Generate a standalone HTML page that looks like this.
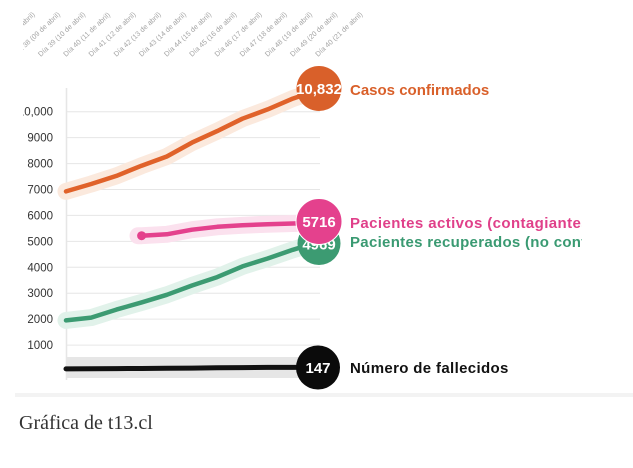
<!DOCTYPE html>
<html><head><meta charset="utf-8"><style>
html,body{margin:0;padding:0;background:#fff;}
svg{display:block;}
</style></head><body>
<svg width="633" height="468" viewBox="0 0 633 468" xmlns="http://www.w3.org/2000/svg">
<defs>
<clipPath id="lc"><rect x="23" y="0" width="610" height="400"/></clipPath>
<clipPath id="rc"><rect x="0" y="0" width="582" height="400"/></clipPath>
</defs>
<rect x="0" y="0" width="633" height="468" fill="#fff"/>
<rect x="15" y="393" width="618" height="4" fill="#f3f3f3"/>

<!-- x labels -->
<g clip-path="url(#lc)" font-family="Liberation Sans, sans-serif" font-size="7.2" fill="#a5a5a5">
<text transform="translate(-9.6,57) rotate(-43)">Día 37 (08 de abril)</text>
<text transform="translate(15.6,57) rotate(-43)">Día 38 (09 de abril)</text>
<text transform="translate(40.8,57) rotate(-43)">Día 39 (10 de abril)</text>
<text transform="translate(66,57) rotate(-43)">Día 40 (11 de abril)</text>
<text transform="translate(91.2,57) rotate(-43)">Día 41 (12 de abril)</text>
<text transform="translate(116.4,57) rotate(-43)">Día 42 (13 de abril)</text>
<text transform="translate(141.6,57) rotate(-43)">Día 43 (14 de abril)</text>
<text transform="translate(166.8,57) rotate(-43)">Día 44 (15 de abril)</text>
<text transform="translate(192,57) rotate(-43)">Día 45 (16 de abril)</text>
<text transform="translate(217.2,57) rotate(-43)">Día 46 (17 de abril)</text>
<text transform="translate(242.4,57) rotate(-43)">Día 47 (18 de abril)</text>
<text transform="translate(267.6,57) rotate(-43)">Día 48 (19 de abril)</text>
<text transform="translate(292.8,57) rotate(-43)">Día 49 (20 de abril)</text>
<text transform="translate(318,57) rotate(-43)">Día 40 (21 de abril)</text>
</g>

<!-- grid -->
<g stroke="#e6e6e6" stroke-width="1">
<line x1="66" y1="111.7" x2="320" y2="111.7"/>
<line x1="66" y1="137.6" x2="320" y2="137.6"/>
<line x1="66" y1="163.6" x2="320" y2="163.6"/>
<line x1="66" y1="189.5" x2="320" y2="189.5"/>
<line x1="66" y1="215.4" x2="320" y2="215.4"/>
<line x1="66" y1="241.4" x2="320" y2="241.4"/>
<line x1="66" y1="267.3" x2="320" y2="267.3"/>
<line x1="66" y1="293.2" x2="320" y2="293.2"/>
<line x1="66" y1="319.1" x2="320" y2="319.1"/>
<line x1="66" y1="345.1" x2="320" y2="345.1"/>
</g>
<line x1="66.5" y1="88" x2="66.5" y2="380" stroke="#e6e6e6" stroke-width="1.5"/>

<!-- y labels -->
<g clip-path="url(#lc)" font-family="Liberation Sans, sans-serif" font-size="11.5" fill="#333" text-anchor="end">
<text x="53" y="115.7">10,000</text>
<text x="53" y="141.6">9000</text>
<text x="53" y="167.6">8000</text>
<text x="53" y="193.5">7000</text>
<text x="53" y="219.4">6000</text>
<text x="53" y="245.4">5000</text>
<text x="53" y="271.3">4000</text>
<text x="53" y="297.2">3000</text>
<text x="53" y="323.1">2000</text>
<text x="53" y="349.1">1000</text>
</g>

<!-- black band -->
<rect x="66" y="357" width="240" height="21" fill="#e6e6e6"/>

<!-- halos -->
<g fill="none" stroke-linecap="round" stroke-linejoin="round" stroke-width="17">
<polyline stroke="#fbe9dd" points="66,191.4 91.2,184 116.4,175.9 141.6,165.7 166.8,156.5 192,142.6 217.2,131.1 242.4,118.7 267.6,109.4 292.8,98.6 318,90.1"/>
<polyline stroke="#e1f2ea" points="66,320.4 91.2,317.6 116.4,309.6 141.6,302.4 166.8,294.8 192,285.5 217.2,277.1 242.4,266.4 267.6,258.5 292.8,249.8 318,242.2"/>
<polyline stroke="#fbe1ee" points="138,235.7 141.6,235.7 166.8,234.3 192,229.7 217.2,226.8 242.4,225.3 267.6,224.2 292.8,223.5 318,222.8"/>
</g>

<!-- lines -->
<g fill="none" stroke-linecap="round" stroke-linejoin="round">
<polyline stroke="#e0622a" stroke-width="4.5" points="66,191.4 91.2,184 116.4,175.9 141.6,165.7 166.8,156.5 192,142.6 217.2,131.1 242.4,118.7 267.6,109.4 292.8,98.6 318,90.1"/>
<polyline stroke="#3c9b72" stroke-width="4.5" points="66,320.4 91.2,317.6 116.4,309.6 141.6,302.4 166.8,294.8 192,285.5 217.2,277.1 242.4,266.4 267.6,258.5 292.8,249.8 318,242.2"/>
<polyline stroke="#e4418d" stroke-width="4.5" points="141.6,235.7 166.8,234.3 192,229.7 217.2,226.8 242.4,225.3 267.6,224.2 292.8,223.5 318,222.8"/>
<polyline stroke="#111" stroke-width="5" points="66,368.9 91.2,368.8 116.4,368.6 141.6,368.5 166.8,368.3 192,368.1 217.2,367.8 242.4,367.6 267.6,367.4 292.8,367.4 318,367.2"/>
</g>
<circle cx="141.6" cy="235.7" r="4.5" fill="#e4418d"/>

<!-- end circles -->
<g font-family="Liberation Sans, sans-serif" font-weight="bold" font-size="15" fill="#fff" text-anchor="middle">
<circle cx="319" cy="88.5" r="22.5" fill="#d9602a"/>
<text x="319" y="94">10,832</text>
<circle cx="319" cy="243.5" r="21.5" fill="#3c9b72"/>
<text x="319" y="249.5">4969</text>
<circle cx="319" cy="221.5" r="23" fill="#e4418d" stroke="#fff" stroke-width="1"/>
<text x="319" y="227">5716</text>
<circle cx="318" cy="367.5" r="22" fill="#0b0b0b"/>
<text x="318" y="373">147</text>
</g>

<!-- series labels -->
<g font-family="Liberation Sans, sans-serif" font-weight="bold" font-size="15" clip-path="url(#rc)">
<text x="350" y="95" fill="#d9602a">Casos confirmados</text>
<text x="350" y="228" fill="#e0408a" letter-spacing="0.4">Pacientes activos (contagiantes)</text>
<text x="350" y="247" fill="#3a9a72" letter-spacing="0.3">Pacientes recuperados (no contagiantes)</text>
<text x="350" y="373" fill="#111" letter-spacing="0.35">Número de fallecidos</text>
</g>

<text x="19" y="429" font-family="Liberation Serif, serif" font-size="20" fill="#333">Gráfica de t13.cl</text>
</svg>
</body></html>
